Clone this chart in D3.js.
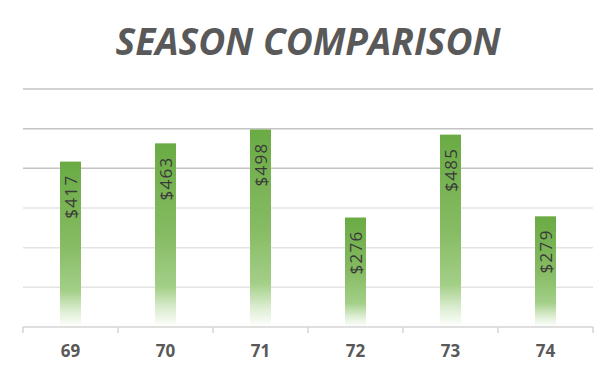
<!DOCTYPE html>
<html>
<head>
<meta charset="utf-8">
<script src="https://cdn.jsdelivr.net/npm/d3@7"></script>
<style>
  body { margin: 0; background: #fff; }
  svg { display: block; }
</style>
</head>
<body>
<div id="chart"></div>
<script>
const seasons = ['69', '70', '71', '72', '73', '74'];
const totals = [417, 463, 498, 276, 485, 279];
const yTicks = [100, 200, 300, 400, 500, 600];

const width = 616, height = 376;
const margin = { top: 89, right: 23, bottom: 49, left: 23 };

const svg = d3.select('#chart').append('svg')
  .attr('width', width)
  .attr('height', height);

// bar fill: solid green on top, fading out towards the axis
const grad = svg.append('defs').append('linearGradient')
  .attr('id', 'barFade')
  .attr('x1', 0).attr('y1', 0).attr('x2', 0).attr('y2', 1);
grad.selectAll('stop')
  .data([
    ['0%', '#6aab44'],
    ['50%', '#86bb63'],
    ['78%', '#a3cf87'],
    ['90%', '#dcedd1'],
    ['100%', '#ffffff']
  ])
  .join('stop')
  .attr('offset', d => d[0])
  .attr('stop-color', d => d[1]);

const x = d3.scaleBand()
  .domain(seasons)
  .range([margin.left, width - margin.right])
  .paddingInner(0)
  .paddingOuter(0);

const y = d3.scaleLinear()
  .domain([0, 600])
  .range([height - margin.bottom, margin.top]);

svg.append('text')
  .attr('x', width / 2)
  .attr('y', 55)
  .attr('text-anchor', 'middle')
  .attr('textLength', 385)
  .attr('lengthAdjust', 'spacingAndGlyphs')
  .style('font-family', '"Open Sans", sans-serif')
  .style('font-size', '38px')
  .style('font-weight', 'bold')
  .style('font-style', 'italic')
  .style('fill', '#595959')
  .text('SEASON COMPARISON');

// gridlines
svg.append('g')
  .selectAll('line')
  .data(yTicks)
  .join('line')
  .attr('x1', margin.left)
  .attr('x2', width - margin.right)
  .attr('y1', d => y(d))
  .attr('y2', d => y(d))
  .attr('stroke', d => d >= 400 ? '#c4c4c4' : '#e4e4e4')
  .attr('stroke-width', 1.5);

// bars
const barW = 21;
const bars = svg.append('g');
bars.selectAll('rect')
  .data(totals)
  .join('rect')
  .attr('x', (d, i) => x(seasons[i]) + x.bandwidth() / 2 - barW / 2)
  .attr('y', d => y(d))
  .attr('width', barW)
  .attr('height', d => y(0) - y(d))
  .attr('fill', 'url(#barFade)');

// value labels, rotated inside the bar
bars.selectAll('text')
  .data(totals)
  .join('text')
  .attr('transform', (d, i) =>
    `translate(${x(seasons[i]) + x.bandwidth() / 2 + 6.5},${y(d) + 13})rotate(-90)`)
  .attr('text-anchor', 'end')
  .style('font-family', '"Open Sans", sans-serif')
  .style('font-size', '17px')
  .style('letter-spacing', '1.3px')
  .style('fill', '#3a3a3a')
  .text(d => '$' + d);

// category axis
const xAxis = svg.append('g')
  .attr('transform', `translate(0,${y(0)})`)
  .call(d3.axisBottom(x).tickSize(0).tickPadding(18));
xAxis.select('.domain').remove();
xAxis.append('line')
  .attr('x1', margin.left).attr('x2', width - margin.right)
  .attr('stroke', '#d4d4d4').attr('stroke-width', 1.5);
xAxis.selectAll('.sep')
  .data(d3.range(seasons.length + 1))
  .join('line')
  .attr('class', 'sep')
  .attr('x1', i => margin.left + i * x.bandwidth())
  .attr('x2', i => margin.left + i * x.bandwidth())
  .attr('y1', 0).attr('y2', 6)
  .attr('stroke', '#d4d4d4').attr('stroke-width', 1.5);
xAxis.selectAll('.tick text')
  .style('font-family', '"Open Sans", sans-serif')
  .style('font-size', '17px')
  .style('font-weight', 'bold')
  .style('fill', '#595959')
  .attr('dy', '0.71em');
</script>
</body>
</html>
